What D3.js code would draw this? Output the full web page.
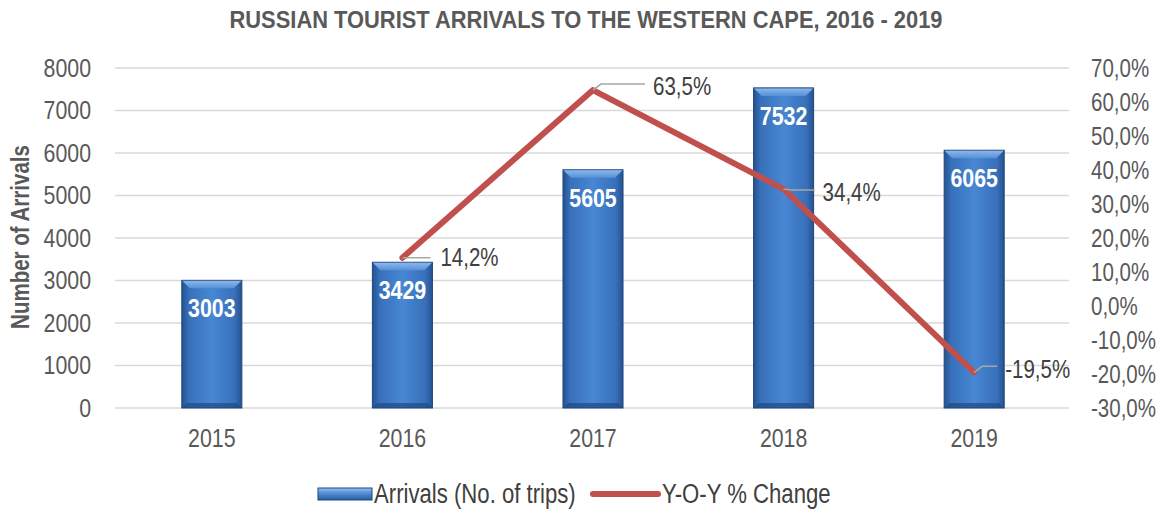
<!DOCTYPE html>
<html>
<head>
<meta charset="utf-8">
<script src="https://cdn.jsdelivr.net/npm/d3@7"></script>
<style>
    body { margin: 0; background: #fff; }
    #chart { width: 1173px; height: 509px; }
    text { font-family: "Liberation Sans", Arial, sans-serif; }
</style>
</head>
<body>
<div id="chart"></div>
<script>
// data
const years = ["2015", "2016", "2017", "2018", "2019"];
const arrivals = [3003, 3429, 5605, 7532, 6065];
const changeYears = ["2016", "2017", "2018", "2019"];
const yoyChange = [14.2, 63.5, 34.4, -19.5];
const arrivalTicks = [0, 1000, 2000, 3000, 4000, 5000, 6000, 7000, 8000];
const changeTicks = [-30, -20, -10, 0, 10, 20, 30, 40, 50, 60, 70];

// leader line end and label start, relative to each point
const leaderEnds = [[28, 0], [52, -6], [31, 1], [23, -6]];
const labelStarts = [[38, 0], [60, -4], [39, 3], [31, -3]];

const locale = d3.formatLocale({decimal: ",", thousands: " ", grouping: [3], currency: ["", ""], minus: "-"});
const fmtPct = v => locale.format(".1f")(v) + "%";

// no Arial Narrow here, so squeeze the glyphs to get the same look
function narrow(sel, f) {
    sel.each(function() {
        let w = this.getComputedTextLength();
        d3.select(this).attr("textLength", w * (f || 0.82)).attr("lengthAdjust", "spacingAndGlyphs");
    });
}

class ComboChart {
    constructor(parentElement) {
        this.parentElement = parentElement;
        this.initVis();
    }

    initVis() {
        let vis = this;

        vis.margin = {top: 68, right: 104, bottom: 101, left: 117};
        vis.width = 1173 - vis.margin.left - vis.margin.right;
        vis.height = 509 - vis.margin.top - vis.margin.bottom;

        vis.root = d3.select("#" + vis.parentElement).append("svg")
            .attr("width", 1173)
            .attr("height", 509);

        let defs = vis.root.append("defs");
        let grad = defs.append("linearGradient")
            .attr("id", "barGrad")
            .attr("x1", "0%").attr("x2", "100%").attr("y1", "0%").attr("y2", "0%");
        [["0%", "#24528f"], ["12%", "#3870ba"], ["50%", "#4787d4"], ["88%", "#3870ba"], ["100%", "#24528f"]]
            .forEach(s => grad.append("stop").attr("offset", s[0]).attr("stop-color", s[1]));

        let gradTop = defs.append("linearGradient")
            .attr("id", "bevelGrad")
            .attr("x1", "0%").attr("x2", "0%").attr("y1", "0%").attr("y2", "100%");
        gradTop.append("stop").attr("offset", "0%").attr("stop-color", "#8db6ec");
        gradTop.append("stop").attr("offset", "100%").attr("stop-color", "#5590d8");

        let gradLeg = defs.append("linearGradient")
            .attr("id", "legGrad")
            .attr("x1", "0%").attr("x2", "0%").attr("y1", "0%").attr("y2", "100%");
        [["0%", "#9cc0ef"], ["35%", "#5b95dc"], ["100%", "#2a5ea3"]]
            .forEach(s => gradLeg.append("stop").attr("offset", s[0]).attr("stop-color", s[1]));

        vis.svg = vis.root.append("g")
            .attr("transform", `translate(${vis.margin.left},${vis.margin.top})`);

        vis.x = d3.scaleBand()
            .domain(years)
            .range([0, vis.width])
            .paddingInner(0.685)
            .paddingOuter(0.34);

        vis.y = d3.scaleLinear()
            .domain([0, 8000])
            .range([vis.height, 0]);

        vis.y2 = d3.scaleLinear()
            .domain([-30, 70])
            .range([vis.height, 0]);

        // gridlines
        vis.svg.append("g")
            .attr("class", "grid")
            .selectAll("line")
            .data(arrivalTicks)
            .enter().append("line")
            .attr("x1", -2)
            .attr("x2", vis.width)
            .attr("y1", d => vis.y(d))
            .attr("y2", d => vis.y(d))
            .attr("stroke", "#d9d9d9")
            .attr("stroke-width", 1.3);

        vis.updateVis();
    }

    updateVis() {
        let vis = this;
        let cx = d => vis.x(d) + vis.x.bandwidth() / 2;

        // left axis
        let yAxis = d3.axisLeft(vis.y).tickValues(arrivalTicks).tickSize(0).tickPadding(26)
            .tickFormat(d3.format("d"));
        let gy = vis.svg.append("g").call(yAxis);
        gy.select(".domain").remove();
        gy.selectAll("text").attr("font-size", 26).attr("fill", "#595959")
            .style("font-family", "'Liberation Sans', Arial, sans-serif").call(narrow);

        // right axis
        let y2Axis = d3.axisRight(vis.y2).tickValues(changeTicks).tickSize(0).tickPadding(22)
            .tickFormat(fmtPct);
        let gy2 = vis.svg.append("g").attr("transform", `translate(${vis.width},0)`).call(y2Axis);
        gy2.select(".domain").remove();
        gy2.selectAll("text").attr("font-size", 25).attr("fill", "#595959")
            .style("font-family", "'Liberation Sans', Arial, sans-serif").call(narrow);

        // bottom axis
        let xAxis = d3.axisBottom(vis.x).tickSize(0).tickPadding(21);
        let gx = vis.svg.append("g").attr("transform", `translate(0,${vis.height})`).call(xAxis);
        gx.select(".domain").remove();
        gx.selectAll("text").attr("font-size", 26).attr("fill", "#595959")
            .style("font-family", "'Liberation Sans', Arial, sans-serif").call(narrow);

        // bars
        let bars = vis.svg.selectAll(".bar")
            .data(arrivals.map((v, i) => ({year: years[i], value: v})))
            .enter().append("g")
            .attr("class", "bar");

        bars.append("rect")
            .attr("x", d => vis.x(d.year))
            .attr("y", d => vis.y(d.value))
            .attr("width", vis.x.bandwidth())
            .attr("height", d => vis.height - vis.y(d.value))
            .attr("fill", "url(#barGrad)")
            .attr("stroke", "#1d4679")
            .attr("stroke-width", 1);

        // top bevel
        bars.append("path")
            .attr("d", d => {
                let x0 = vis.x(d.year), x1 = x0 + vis.x.bandwidth(), t = vis.y(d.value), b = 8;
                return `M${x0 + 0.5},${t + 0.5}L${x1 - 0.5},${t + 0.5}L${x1 - b},${t + b}L${x0 + b},${t + b}Z`;
            })
            .attr("fill", "url(#bevelGrad)");

        // bottom shade
        bars.append("path")
            .attr("d", d => {
                let x0 = vis.x(d.year), x1 = x0 + vis.x.bandwidth(), bt = vis.height, b = 5;
                return `M${x0 + 0.5},${bt}L${x1 - 0.5},${bt}L${x1 - b},${bt - b}L${x0 + b},${bt - b}Z`;
            })
            .attr("fill", "#1f4a82")
            .attr("opacity", 0.7);

        bars.append("text")
            .attr("x", d => cx(d.year))
            .attr("y", d => vis.y(d.value) + 37)
            .attr("text-anchor", "middle")
            .attr("font-size", 26)
            .attr("font-weight", "bold")
            .attr("fill", "#ffffff")
            .text(d => d.value)
            .call(narrow);

        // y-o-y line
        let lineData = yoyChange.map((v, i) => ({year: changeYears[i], value: v}));
        let line = d3.line()
            .x(d => cx(d.year))
            .y(d => vis.y2(d.value));

        vis.svg.append("path")
            .datum(lineData)
            .attr("d", line)
            .attr("fill", "none")
            .attr("stroke", "#c0504d")
            .attr("stroke-width", 6)
            .attr("stroke-linecap", "round")
            .attr("stroke-linejoin", "round");

        // leader lines and % labels
        let labels = vis.svg.selectAll(".pct-label")
            .data(lineData)
            .enter().append("g")
            .attr("class", "pct-label");

        labels.append("path")
            .attr("d", (d, i) => {
                let px = cx(d.year), py = vis.y2(d.value);
                let [dx, dy] = leaderEnds[i];
                return `M${px},${py}L${px + 8},${py + dy}L${px + dx},${py + dy}`;
            })
            .attr("fill", "none")
            .attr("stroke", "#a6a6a6")
            .attr("stroke-width", 1.5);

        labels.append("text")
            .attr("x", (d, i) => cx(d.year) + labelStarts[i][0])
            .attr("y", (d, i) => vis.y2(d.value) + labelStarts[i][1])
            .attr("dy", "0.35em")
            .attr("font-size", 25)
            .attr("fill", "#404040")
            .text(d => fmtPct(d.value))
            .call(narrow);

        // titles
        vis.root.append("text")
            .attr("x", 586)
            .attr("y", 28)
            .attr("text-anchor", "middle")
            .attr("font-size", 23)
            .attr("font-weight", "bold")
            .attr("fill", "#595959")
            .text("RUSSIAN TOURIST ARRIVALS TO THE WESTERN CAPE, 2016 - 2019")
            .attr("textLength", 713)
            .attr("lengthAdjust", "spacingAndGlyphs");

        vis.root.append("text")
            .attr("transform", "translate(29,237) rotate(-90)")
            .attr("text-anchor", "middle")
            .attr("font-size", 25)
            .attr("font-weight", "bold")
            .attr("fill", "#595959")
            .text("Number of Arrivals")
            .call(narrow);

        // legend
        let leg = vis.root.append("g").attr("class", "legend");
        leg.append("rect")
            .attr("x", 318).attr("y", 488).attr("width", 54).attr("height", 12)
            .attr("fill", "url(#legGrad)")
            .attr("stroke", "#1d4679");
        leg.append("text")
            .attr("x", 374).attr("y", 494).attr("dy", "0.35em")
            .attr("font-size", 27).attr("fill", "#404040")
            .text("Arrivals (No. of trips)")
            .call(narrow);
        leg.append("line")
            .attr("x1", 593).attr("x2", 658).attr("y1", 494).attr("y2", 494)
            .attr("stroke", "#c0504d").attr("stroke-width", 6).attr("stroke-linecap", "round");
        leg.append("text")
            .attr("x", 662).attr("y", 494).attr("dy", "0.35em")
            .attr("font-size", 27).attr("fill", "#404040")
            .text("Y-O-Y % Change")
            .call(narrow);
    }
}

new ComboChart("chart");
</script>
</body>
</html>
